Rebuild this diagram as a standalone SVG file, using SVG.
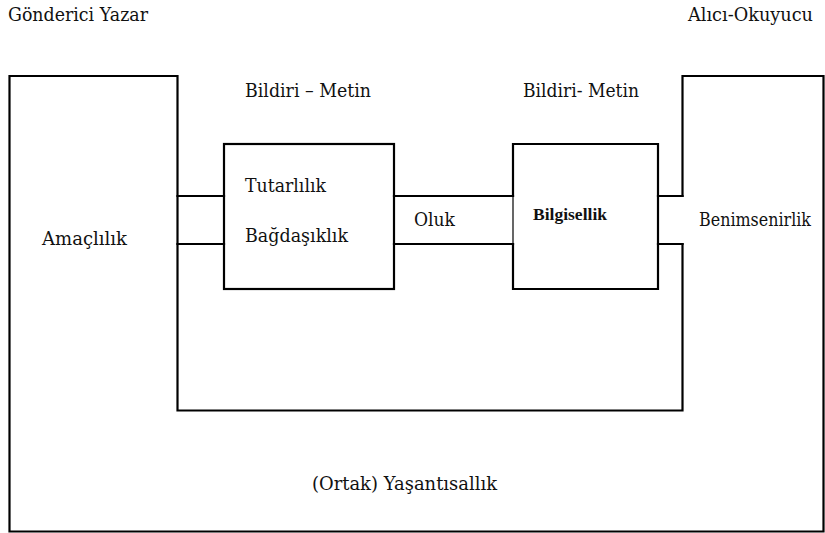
<svg xmlns="http://www.w3.org/2000/svg" width="825" height="533" viewBox="0 0 825 533">
<style>
.ln{fill:none;stroke:#000;stroke-width:2.2;stroke-linejoin:miter;stroke-linecap:square}
.thin{fill:none;stroke:#000;stroke-width:1.2}
.t{font-family:'DejaVu Serif','Liberation Serif',serif;font-size:18px;fill:#111}
.b{font-family:'Liberation Serif','DejaVu Serif',serif;font-size:16px;font-weight:bold;fill:#111}
</style>
<rect width="825" height="533" fill="#fff"/>
<g id="outer">
<path class="ln" d="M682.5 196 V76 H823.5 V531.5 H9.5 V76 H177.5 V410.5 H682.5 V244"/>
</g>
<g id="box-tutarlilik">
<rect class="ln" x="224" y="144" width="170" height="145"/>
<text class="t" x="245" y="192" textLength="81" lengthAdjust="spacingAndGlyphs">Tutarlılık</text>
<text class="t" x="245" y="242" textLength="103" lengthAdjust="spacingAndGlyphs">Bağdaşıklık</text>
</g>
<g id="box-bilgisellik">
<path class="ln" d="M513 196 V144 H658 V289 H513 V244"/>
<path class="thin" d="M513 196 V244"/>
<text class="b" x="533" y="220" textLength="74" lengthAdjust="spacingAndGlyphs">Bilgisellik</text>
</g>
<g id="connectors">
<path class="ln" d="M177.5 196 H224 M177.5 244 H224"/>
<path class="ln" d="M394 196 H513 M394 244 H513"/>
<path class="ln" d="M658 196 H682.5 M658 244 H682.5"/>
</g>
<g id="labels">
<text class="t" x="8" y="21" textLength="140" lengthAdjust="spacingAndGlyphs">Gönderici Yazar</text>
<text class="t" x="688" y="21" textLength="125" lengthAdjust="spacingAndGlyphs">Alıcı-Okuyucu</text>
<text class="t" x="245" y="97" textLength="126" lengthAdjust="spacingAndGlyphs">Bildiri – Metin</text>
<text class="t" x="523" y="97" textLength="116" lengthAdjust="spacingAndGlyphs">Bildiri- Metin</text>
<text class="t" x="414" y="226" textLength="41" lengthAdjust="spacingAndGlyphs">Oluk</text>
<text class="t" x="699" y="226" font-size="16" textLength="112" lengthAdjust="spacingAndGlyphs">Benimsenirlik</text>
<text class="t" x="42" y="245" textLength="85" lengthAdjust="spacingAndGlyphs">Amaçlılık</text>
<text class="t" x="312" y="490" textLength="185" lengthAdjust="spacingAndGlyphs">(Ortak) Yaşantısallık</text>
</g>
</svg>
